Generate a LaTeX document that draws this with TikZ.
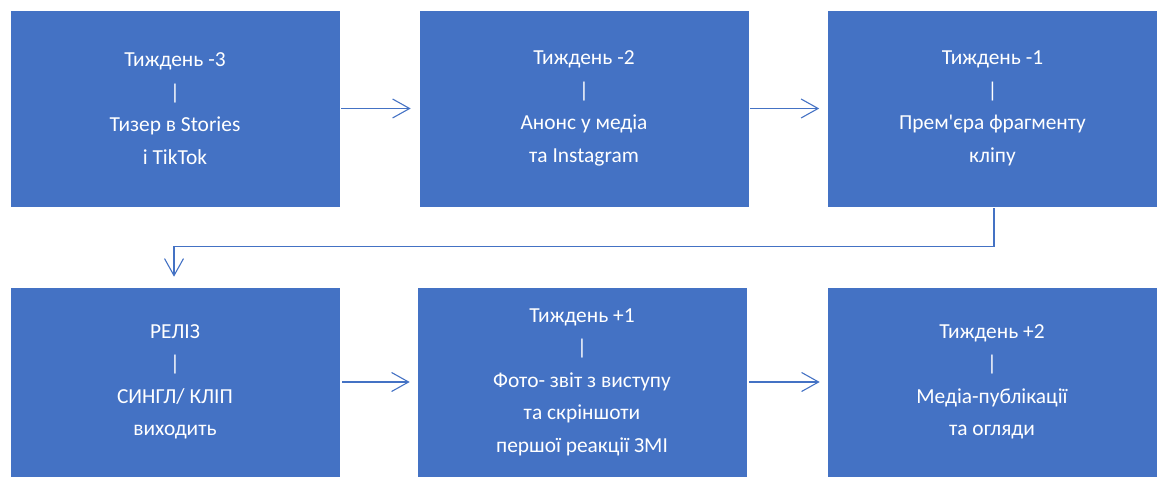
\documentclass[tikz,border=0pt]{standalone}
\usepackage{fontspec}
\setmainfont{Carlito}
\usetikzlibrary{arrows.meta}
\definecolor{boxblue}{HTML}{4472C4}
\tikzset{
  stagebox/.style={fill=boxblue, draw=white, line width=0.6pt, text=white, align=center,
    font=\fontsize{21.4pt}{32.5pt}\selectfont, minimum width=330pt, inner sep=0pt},
  toprow/.style={minimum height=197pt},
  botrow/.style={minimum height=190pt},
  flow/.style={draw=boxblue, line width=1.1pt, -{Straight Barb[length=17pt,width=19pt,line width=1.1pt]}}
}
\begin{document}
\begin{tikzpicture}[x=1pt,y=1pt]
\useasboundingbox (0,0) rectangle (1161,478);
\node[stagebox,toprow] (b1) at (175,369.5) {Тиждень -3\\|\\Тизер в Stories\\і TikTok};
\node[stagebox,toprow] (b2) at (584,369.5) {Тиждень -2\\|\\Анонс у медіа\\та Instagram};
\node[stagebox,toprow] (b3) at (992.5,369.5) {Тиждень -1\\|\\Прем\textquotesingle єра фрагменту\\кліпу};
\node[stagebox,botrow] (b4) at (175,96) {РЕЛІЗ\\|\\СИНГЛ/ КЛІП\\виходить};
\node[stagebox,botrow] (b5) at (582,96) {Тиждень +1\\|\\Фото- звіт з виступу\\та скріншоти\\першої реакції ЗМІ};
\node[stagebox,botrow] (b6) at (992,96) {Тиждень +2\\|\\Медіа-публікації\\та огляди};
\draw[flow, shorten <=1pt, shorten >=8pt] (b1.east) -- (b2.west);
\draw[flow, shorten <=1pt, shorten >=8pt] (b2.east) -- (b3.west);
\draw[flow, shorten <=2pt, shorten >=7pt] (b4.east) -- (b5.west);
\draw[flow, shorten <=2pt, shorten >=7pt] (b5.east) -- (b6.west);
\draw[flow, shorten <=1pt, shorten >=10pt] ([xshift=1.5pt]b3.south) -- ++(0,-39) -| ([xshift=-1pt]b4.north);
\end{tikzpicture}
\end{document}
